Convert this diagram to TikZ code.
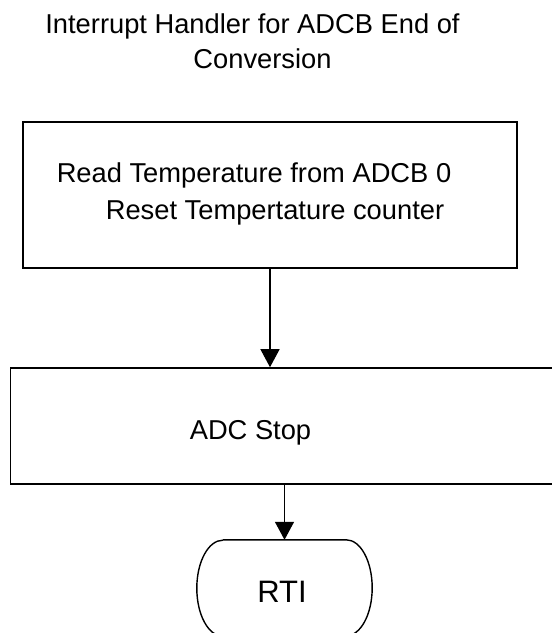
\documentclass[tikz,border=0pt]{standalone}
\usepackage{fontspec}
\setmainfont{Liberation Sans}
\usetikzlibrary{arrows.meta}
\tikzset{
  box/.style={draw, line width=1.6pt, inner sep=0pt},
  txt/.style={anchor=base, inner sep=0pt, font=\fontsize{27.3}{32}\selectfont},
  conn/.style={line width=1.4pt, -{Triangle[width=19pt,length=18pt]}},
  termshape/.style={inner sep=0pt, minimum width=175pt, minimum height=96pt}
}
\begin{document}
\begin{tikzpicture}[x=1pt,y=1pt]
\useasboundingbox (0,0) rectangle (552,-633);
\fill[white] (0,0) rectangle (552,-633);
% title
\node[txt] (t1) at (252.5,-33) {Interrupt Handler for ADCB End of};
\node[txt] (t2) at (262.5,-68) {Conversion};
% box 1
\node[box, minimum width=494pt, minimum height=146pt] (b1) at (270,-195) {};
\node[txt] (b1a) at (254,-182) {Read Temperature from ADCB 0};
\node[txt] (b1b) at (275,-219) {Reset Tempertature counter};
% box 2 (runs past right edge)
\node[box, minimum width=560pt, minimum height=116pt] (b2) at (290.5,-426) {};
\node[txt] (b2a) at (250.5,-439) {ADC Stop};
% terminator
\node[termshape] (rti) at (284.5,-588) {};
\draw[line width=1.4pt] ([xshift=26pt]rti.north west) -- ([xshift=-26pt]rti.north east)
  arc[start angle=90, end angle=-90, x radius=26, y radius=48]
  -- ([xshift=26pt]rti.south west)
  arc[start angle=270, end angle=90, x radius=26, y radius=48];
\node[txt, font=\fontsize{31}{36}\selectfont] (rtit) at (282,-602) {RTI};
% connectors
\draw[conn] (b1.south) -- (b1.south |- b2.north);
\draw[conn] (rti.north |- b2.south) -- (rti.north);
\end{tikzpicture}
\end{document}
